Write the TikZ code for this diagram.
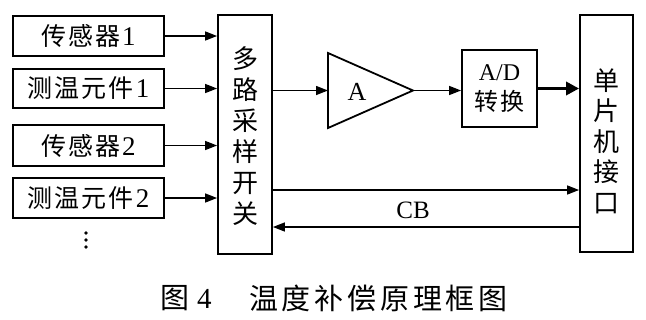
\documentclass[tikz,border=0pt]{standalone}
\usepackage{fontspec}
\setmainfont{Liberation Serif}
\newfontfamily\cjk{Noto Sans CJK SC}
\newfontfamily\cjksp{Noto Sans CJK SC}[LetterSpace=8]
\newfontfamily\cjkcap{Noto Sans CJK SC}[LetterSpace=13]
\usetikzlibrary{arrows.meta}
\newcommand{\dg}[1]{\hspace{2pt}{\fontsize{27}{30}\selectfont #1}}
\begin{document}
\begin{tikzpicture}[x=1pt,y=-1pt,
  box/.style={draw,line width=1.8pt,inner sep=0pt},
  inbox/.style={box,minimum width=151pt,font=\fontsize{25}{30}\selectfont},
  arr/.style={-{Triangle[length=12pt,width=9pt]},line width=1.4pt},
  thickarr/.style={-{Triangle[length=13pt,width=13pt]},line width=3.8pt},
  vtext/.style={align=center,inner sep=0pt,font=\cjk\fontsize{26}{31}\selectfont},
  lbl/.style={inner sep=0pt,font=\fontsize{24}{28}\selectfont}]
\useasboundingbox (0,0) rectangle (646,319);
% input boxes
\node[inbox,minimum height=40pt] (s1) at (88.5,36) {{\cjksp 传感器}\dg{1}};
\node[inbox,minimum height=39pt] (t1) at (88.5,88.5) {{\cjksp 测温元件}\dg{1}};
\node[inbox,minimum height=41pt] (s2) at (88.5,145.5) {{\cjksp 传感器}\dg{2}};
\node[inbox,minimum height=40pt] (t2) at (88.5,198) {{\cjksp 测温元件}\dg{2}};
\fill (86,233) circle (1.8pt) (86,240) circle (1.8pt) (86,247) circle (1.8pt);
% multiplexer
\node[box,minimum width=54pt,minimum height=239pt] (mux) at (245,134.5) {};
\node[vtext] (muxt) at (245,136) {多\\路\\采\\样\\开\\关};
% MCU interface
\node[box,minimum width=53pt,minimum height=237pt] (mcu) at (606.5,133.5) {};
\node[vtext,font=\cjk\fontsize{26}{30.5}\selectfont] (mcut) at (606.5,141) {单\\片\\机\\接\\口};
% amplifier
\coordinate (ampin) at (328,90.5);
\coordinate (ampout) at (413,90.5);
\draw[line width=1.8pt,line join=miter] (328,53) -- (ampout) -- (328,128) -- cycle;
\node[lbl,font=\fontsize{26}{28}\selectfont] (ampt) at (357,92) {A};
% ADC
\node[box,minimum width=75pt,minimum height=77pt,align=center,font=\fontsize{24}{30}\selectfont] (adc) at (499.5,88.5) {A/D\\{\cjksp 转换}};
% connectors
\draw[arr] (s1.east) -- (s1.east -| mux.west);
\draw[arr] (t1.east) -- (t1.east -| mux.west);
\draw[arr] (s2.east) -- (s2.east -| mux.west);
\draw[arr] (t2.east) -- (t2.east -| mux.west);
\draw[arr] (mux.east |- ampin) -- (ampin);
\draw[arr] (ampout) -- (adc.west |- ampout);
\draw[thickarr] (adc.east) -- (adc.east -| mcu.west);
\coordinate (bus1) at (0,190);
\coordinate (bus2) at (0,227);
\draw[arr] (mux.east |- bus1) -- (mcu.west |- bus1);
\draw[arr] (mcu.west |- bus2) -- (mux.east |- bus2);
\node[lbl,font=\fontsize{25}{28}\selectfont] (cb) at (413,210) {CB};
% caption
\node[anchor=west,inner sep=0pt,font=\fontsize{29}{32}\selectfont] (cap1) at (160,298) {{\cjk 图}\hspace{8pt}4};
\node[anchor=west,inner sep=0pt,font=\cjkcap\fontsize{29}{32}\selectfont] (cap2) at (249,298) {温度补偿原理框图};
\end{tikzpicture}
\end{document}
